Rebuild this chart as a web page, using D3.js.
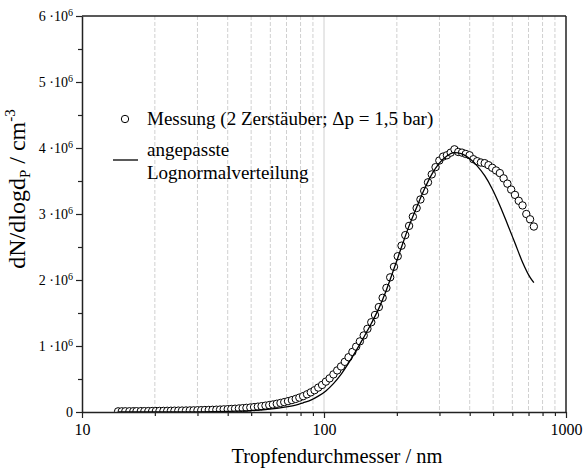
<!DOCTYPE html>
<html><head><meta charset="utf-8">
<script src="https://cdn.jsdelivr.net/npm/d3@7"></script>
<style>
body{margin:0;background:#fff}
svg{display:block}
text{font-family:"Liberation Serif","Times New Roman",serif;fill:#000}
</style>
</head><body>
<svg id="chart" width="586" height="468"></svg>
<script>
// Measured diameters (nm)
const diameters = [
  14.1, 14.6, 15.1, 15.7, 16.3, 16.8, 17.5, 18.1, 18.8, 19.5,
  20.2, 20.9, 21.7, 22.5, 23.3, 24.1, 25.0, 25.9, 26.9, 27.9,
  28.9, 30.0, 31.1, 32.2, 33.4, 34.6, 35.9, 37.2, 38.5, 40.0,
  41.4, 42.9, 44.5, 46.1, 47.8, 49.6, 51.4, 53.3, 55.2, 57.3,
  59.4, 61.5, 63.8, 66.1, 68.5, 71.0, 73.7, 76.4, 79.1, 82.0,
  85.1, 88.2, 91.4, 94.7, 98.2, 101.8, 105.5, 109.4, 113.4, 117.6,
  121.9, 126.3, 131.0, 135.8, 140.7, 145.9, 151.2, 156.8, 162.5, 168.5,
  174.7, 181.1, 187.7, 194.6, 201.7, 209.1, 216.7, 224.7, 232.9, 241.4,
  250.3, 259.5, 269.0, 278.8, 289.0, 299.6, 310.6, 322.0, 333.8, 346.0,
  358.7, 371.8, 385.4, 399.5, 414.2, 429.4, 445.1, 461.4, 478.3, 495.8,
  514.0, 532.8, 552.3, 572.5, 593.5, 615.3, 637.8, 661.2, 685.4, 710.5,
  736.5
];
// Measured dN/dlogdP (in 10^6 cm^-3)
const measured = [
  0.010, 0.010, 0.011, 0.011, 0.012, 0.012, 0.013, 0.013, 0.014, 0.015,
  0.015, 0.016, 0.017, 0.018, 0.019, 0.020, 0.021, 0.022, 0.023, 0.024,
  0.025, 0.027, 0.028, 0.030, 0.031, 0.033, 0.035, 0.037, 0.040, 0.043,
  0.046, 0.050, 0.054, 0.058, 0.063, 0.068, 0.074, 0.081, 0.088, 0.096,
  0.105, 0.114, 0.125, 0.137, 0.150, 0.164, 0.180, 0.198, 0.218, 0.240,
  0.268, 0.298, 0.33, 0.37, 0.41, 0.46, 0.51, 0.57, 0.63, 0.69,
  0.76, 0.83, 0.91, 0.99, 1.07, 1.16, 1.26, 1.36, 1.47, 1.59,
  1.73, 1.88, 2.04, 2.20, 2.36, 2.52, 2.68, 2.82, 2.96, 3.09,
  3.22, 3.35, 3.48, 3.60, 3.71, 3.81, 3.87, 3.89, 3.93, 3.98,
  3.94, 3.93, 3.91, 3.89, 3.83, 3.80, 3.78, 3.77, 3.74, 3.70,
  3.66, 3.62, 3.54, 3.46, 3.37, 3.29, 3.20, 3.13, 3.00, 2.92,
  2.81
];
// Fitted lognormal curve
const fitDiameters = [
  14.1, 20.2, 30.0, 40.0, 49.6, 57.3, 63.8, 71.0, 76.4, 82.0,
  88.2, 94.7, 101.8, 109.4, 117.6, 126.3, 135.8, 145.9, 156.8, 168.5,
  181.1, 194.6, 209.1, 224.7, 241.4, 259.5, 278.8, 299.6, 322.0, 346.0,
  371.8, 399.5, 429.4, 461.4, 495.8, 532.8, 572.5, 615.3, 661.2, 710.5,
  736.5
];
const fitValues = [
  0.000, 0.001, 0.003, 0.010, 0.022, 0.038, 0.055, 0.080, 0.105, 0.14,
  0.18, 0.24, 0.32, 0.43, 0.57, 0.74, 0.93, 1.13, 1.34, 1.57,
  1.85, 2.17, 2.50, 2.82, 3.10, 3.37, 3.60, 3.77, 3.88, 3.93,
  3.91, 3.84, 3.73, 3.58, 3.38, 3.13, 2.85, 2.56, 2.27, 2.04,
  1.96
];
const xTicks = [10, 100, 1000];
const xTickLabels = ["10", "100", "1000"];
const xMinor = [20,30,40,50,60,70,80,90,200,300,400,500,600,700,800,900];
const yTicks = [0, 1, 2, 3, 4, 5, 6];
const yMinor = [0.5, 1.5, 2.5, 3.5, 4.5, 5.5];
const legendLabels = ["Messung (2 Zerstäuber; Δp = 1,5 bar)", "angepasste", "Lognormalverteilung"];

const svg = d3.select("#chart");
const L = 82, R = 566, T = 16, B = 412;
const x = d3.scaleLog().domain([10, 1000]).range([L, R]);
const y = d3.scaleLinear().domain([0, 6]).range([B, T]);

// grid
svg.append("g").selectAll("line").data(xMinor).join("line")
  .attr("x1", d => x(d)).attr("x2", d => x(d)).attr("y1", T).attr("y2", B)
  .attr("stroke", "#d0d0d0").attr("stroke-width", 1).attr("stroke-dasharray", "4,2");
svg.append("line").attr("x1", x(100)).attr("x2", x(100)).attr("y1", T).attr("y2", B)
  .attr("stroke", "#d0d0d0").attr("stroke-width", 1);

// clip
svg.append("clipPath").attr("id", "clip").append("rect")
  .attr("x", L).attr("y", T).attr("width", R - L).attr("height", B - T);
const plot = svg.append("g").attr("clip-path", "url(#clip)");

const pts = diameters.map((d, i) => ({d, v: measured[i]}));
plot.append("g").selectAll("circle").data(pts).join("circle")
  .attr("cx", p => x(p.d)).attr("cy", p => y(p.v)).attr("r", 3.7)
  .attr("fill", "#fff").attr("stroke", "#000").attr("stroke-width", 1);

const fit = fitDiameters.map((d, i) => ({d, v: fitValues[i]}));
plot.append("path").datum(fit)
  .attr("fill", "none").attr("stroke", "#000").attr("stroke-width", 1.3)
  .attr("d", d3.line().x(p => x(p.d)).y(p => y(p.v)).curve(d3.curveMonotoneX));

// frame top/right
svg.append("line").attr("x1", L).attr("x2", R).attr("y1", T).attr("y2", T).attr("stroke", "#222").attr("stroke-width", 1.3);
svg.append("line").attr("x1", R).attr("x2", R).attr("y1", T).attr("y2", B).attr("stroke", "#222").attr("stroke-width", 1.5);

// x axis
const gx = svg.append("g").attr("transform", `translate(0,${B})`)
  .call(d3.axisBottom(x).tickValues(xTicks).tickFormat((d, i) => xTickLabels[i]).tickSize(6).tickSizeOuter(0).tickPadding(6));
gx.append("g").attr("class", "minor").call(d3.axisBottom(x).tickValues(xMinor).tickFormat("").tickSize(4).tickSizeOuter(0))
  .select(".domain").remove();
gx.attr("font-size", 16);

// y axis
const gy = svg.append("g").attr("transform", `translate(${L},0)`)
  .call(d3.axisLeft(y).tickValues(yTicks).tickSize(6).tickSizeOuter(0).tickPadding(3));
gy.selectAll(":scope > .tick text").each(function(d) {
  const t = d3.select(this);
  t.text(null);
  if (d === 0) { t.text("0"); return; }
  t.append("tspan").text(d + " ·10");
  t.append("tspan").attr("dy", "-0.45em").attr("font-size", 10).text("6");
});
gy.append("g").attr("class", "minor").call(d3.axisLeft(y).tickValues(yMinor).tickFormat("").tickSize(4).tickSizeOuter(0))
  .select(".domain").remove();
gy.attr("font-size", 14);
svg.selectAll(".domain").attr("stroke", "#222").attr("stroke-width", 1.5);
svg.selectAll(".tick line").attr("stroke", "#222").attr("stroke-width", 1.2);

// axis titles
svg.append("text").attr("x", 337).attr("y", 463).attr("text-anchor", "middle")
  .attr("font-size", 20.5).text("Tropfendurchmesser / nm");
const yt = svg.append("text").attr("transform", "translate(25,189) rotate(-90)")
  .attr("text-anchor", "middle").attr("font-size", 24);
yt.append("tspan").text("dN/dlogd");
yt.append("tspan").attr("font-size", 15).attr("dy", 5).text("P");
yt.append("tspan").attr("dy", -5).text(" / cm");
yt.append("tspan").attr("font-size", 15).attr("dy", -10).text("-3");

// legend
svg.append("circle").attr("cx", 125).attr("cy", 119).attr("r", 3.7)
  .attr("fill", "#fff").attr("stroke", "#000").attr("stroke-width", 1);
svg.append("text").attr("x", 147).attr("y", 125).attr("font-size", 19).text(legendLabels[0]);
svg.append("line").attr("x1", 113).attr("x2", 138).attr("y1", 160).attr("y2", 160)
  .attr("stroke", "#000").attr("stroke-width", 1.3);
svg.append("text").attr("x", 147).attr("y", 156).attr("font-size", 19).text(legendLabels[1]);
svg.append("text").attr("x", 147).attr("y", 179).attr("font-size", 19).text(legendLabels[2]);
</script>
</body></html>
